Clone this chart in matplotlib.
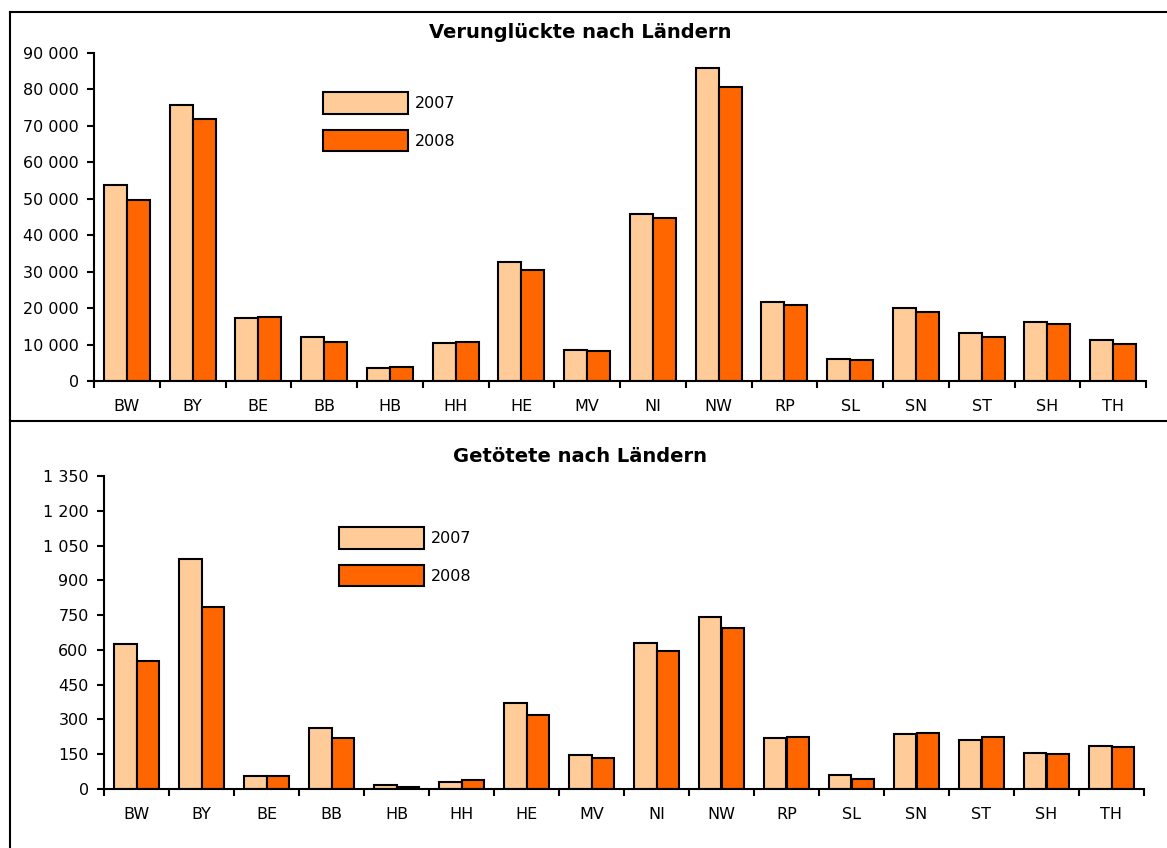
import matplotlib
matplotlib.use('Agg')
import matplotlib.pyplot as plt
import numpy as np
from matplotlib.lines import Line2D
from matplotlib.ticker import FuncFormatter, MultipleLocator

plt.rcParams['font.family'] = 'DejaVu Sans'

laender = ['BW', 'BY', 'BE', 'BB', 'HB', 'HH', 'HE', 'MV',
           'NI', 'NW', 'RP', 'SL', 'SN', 'ST', 'SH', 'TH']

# Verunglückte
verungl_2007 = [53800, 75700, 17300, 12100, 3600, 10400, 32700, 8500,
                45800, 85900, 21700, 6000, 20000, 13200, 16200, 11300]
verungl_2008 = [49700, 71900, 17600, 10700, 3800, 10700, 30500, 8200,
                44700, 80700, 20900, 5800, 18900, 12100, 15600, 10200]

# Getötete
getoetet_2007 = [625, 992, 56, 263, 17, 30, 371, 147,
                 630, 742, 220, 60, 237, 211, 155, 185]
getoetet_2008 = [552, 785, 56, 220, 9, 39, 319, 134,
                 595, 694, 224, 43, 241, 224, 151, 183]

c07 = '#FFCC99'
c08 = '#FF6600'
fs = 11.5

W, H = 1167, 848
fig = plt.figure(figsize=(W / 100, H / 100), dpi=100)


def tsd(v, pos):
    return '{:,.0f}'.format(v).replace(',', ' ')


def panel(rect, v07, v08, ymax, step, title, title_y, leg_xy):
    ax = fig.add_axes(rect)
    x = np.arange(len(laender))
    bw = 0.35
    ax.bar(x - bw / 2, v07, bw, color=c07, edgecolor='black', linewidth=1.5, label='2007')
    ax.bar(x + bw / 2, v08, bw, color=c08, edgecolor='black', linewidth=1.5, label='2008')
    ax.set_xlim(-0.5, len(laender) - 0.5)
    ax.set_ylim(0, ymax)
    ax.yaxis.set_major_locator(MultipleLocator(step))
    ax.yaxis.set_major_formatter(FuncFormatter(tsd))
    ax.set_xticks(x)
    ax.set_xticklabels(laender)
    ax.set_xticks(np.arange(len(laender) + 1) - 0.5, minor=True)
    ax.tick_params(axis='x', which='major', length=0, pad=13, labelsize=fs)
    ax.tick_params(axis='x', which='minor', length=5, width=1.5, direction='out')
    ax.tick_params(axis='y', length=5, width=1.5, direction='out', pad=6, labelsize=fs)
    for s in ['top', 'right']:
        ax.spines[s].set_visible(False)
    for s in ['left', 'bottom']:
        ax.spines[s].set_linewidth(1.5)
    fig.text(0.497, title_y, title, ha='center', va='center',
             fontsize=14, fontweight='bold')
    ax.legend(loc='upper left', bbox_to_anchor=leg_xy, bbox_transform=fig.transFigure,
              frameon=False, fontsize=fs, handlelength=5.3, handleheight=1.7,
              labelspacing=1.0, handletextpad=0.45, borderpad=0, borderaxespad=0)
    return ax


panel([94 / W, 1 - 381 / H, 1052 / W, 328 / H], verungl_2007, verungl_2008,
      90000, 10000, 'Verunglückte nach Ländern', 1 - 33 / H, (323 / W, 1 - 92 / H))
panel([104 / W, 1 - 789 / H, 1040 / W, 313 / H], getoetet_2007, getoetet_2008,
      1350, 150, 'Getötete nach Ländern', 1 - 457 / H, (339 / W, 1 - 527 / H))

# Rahmen
for xs, ys in [([10, W], [12, 12]), ([10, W], [421, 421]), ([10, 10], [12, H])]:
    fig.add_artist(Line2D([v / W for v in xs], [1 - v / H for v in ys],
                          color='black', linewidth=1.5, transform=fig.transFigure))

fig.savefig('out.png', dpi=100)
